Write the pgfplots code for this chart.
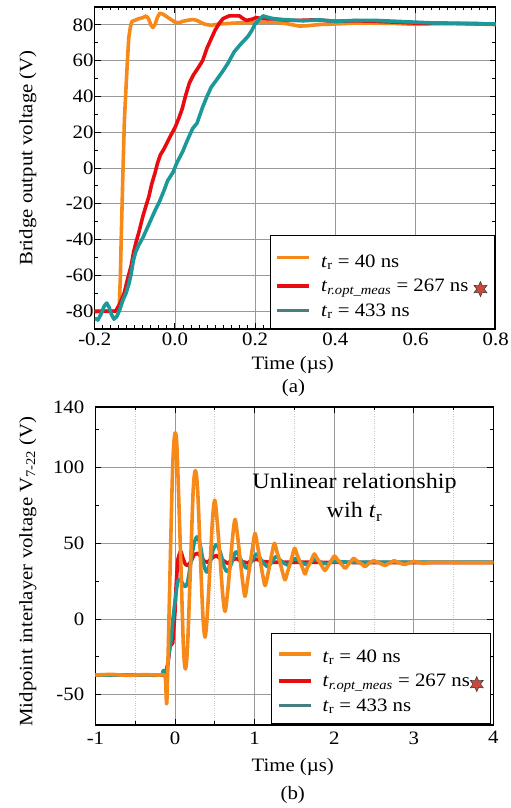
\documentclass[border=0pt]{standalone}
\usepackage{fontspec}
\setmainfont{Liberation Serif}[FakeStretch=1.1]
\usepackage{pgfplots}
\pgfplotsset{compat=1.18}
\usetikzlibrary{shapes.geometric}

\definecolor{cOrange}{RGB}{247,137,25}
\definecolor{cRed}{RGB}{232,12,16}
\definecolor{cTeal}{RGB}{28,152,152}
\definecolor{cTealLeg}{RGB}{72,126,130}
\definecolor{cStar}{RGB}{205,72,58}
\definecolor{gridgray}{gray}{0.6}

\newcommand{\fs}{\fontsize{19}{22}\selectfont}
\newcommand{\tr}{\textit{t}\textsubscript{r}}
\newsavebox{\starbox}

\pgfplotsset{
  panel/.style={
    scale only axis,
    axis line style={line width=1.1pt},
    tick style={black, line width=0.9pt},
    major tick length=6bp, minor tick length=3.5bp,
    tick align=inside,
    grid=major,
    major grid style={gridgray, line width=0.8pt},
    tick label style={font=\fs},
    yticklabel style={anchor=east, inner xsep=1bp},
    every axis plot/.append style={line width=3.6bp, line join=round},
    legend cell align=left,
    legend image code/.code={\draw[#1, line width=3.6bp] (0bp,0bp) -- (32bp,0bp);},
    legend style={font=\fs, draw=black, line width=1pt, fill=white,
      inner xsep=5bp, inner ysep=9bp, row sep=6.4bp,
      /tikz/every odd column/.append style={column sep=8bp}},
  },
}

\begin{document}
\sbox{\starbox}{\tikz[baseline=-0.55ex]\node[star, star points=6, star point ratio=2,
  minimum size=15bp, inner sep=0pt, fill=cStar, draw=black!75, line width=0.6pt]{};}
\begin{tikzpicture}
% ---------------- (a) ----------------
\begin{axis}[
  panel, at={(92bp,479bp)}, anchor=south west,
  width=401bp, height=322bp,
  xmin=-0.2, xmax=0.8, ymin=-90, ymax=90,
  xtick={-0.2,0,0.2,0.4,0.6,0.8}, minor x tick num=9,
  xticklabels={-0.2,0.0,0.2,0.4,0.6,0.8},
  ytick={-80,-60,-40,-20,0,20,40,60,80}, minor y tick num=1,
  yticklabels={-80,-60,-40,-20,0,20,40,60,80},
  ylabel={Bridge output voltage (V)},
  y label style={font=\fs, at={(axis description cs:-0.167,0.531)}, anchor=center},
  legend style={at={(1,0)}, anchor=south east, xshift=-1bp},
]
\addplot[cOrange, forget plot] coordinates {
(-0.200,-80.5) (-0.180,-80.0) (-0.160,-80.2) (-0.145,-80.0) (-0.139,-78.5)
(-0.136,-60) (-0.134,-40) (-0.130,-5) (-0.126,27) (-0.122,45) (-0.118,62)
(-0.115,73) (-0.111,79) (-0.107,82) (-0.100,82.5) (-0.090,83.5) (-0.080,84)
(-0.072,85) (-0.066,83.5) (-0.060,80) (-0.055,78.5) (-0.050,80) (-0.044,84)
(-0.038,86.5) (-0.030,86) (-0.020,84.5) (-0.010,83) (0.000,81.5) (0.010,81.2)
(0.020,82) (0.030,82.5) (0.045,83) (0.055,82.5) (0.065,81.3) (0.075,80.3)
(0.090,79.8) (0.110,80.5) (0.150,81) (0.200,81.5) (0.250,81.5) (0.280,80.6)
(0.310,79.3) (0.330,79.5) (0.360,80.2) (0.400,80.5) (0.450,81) (0.500,81)
(0.550,80.8) (0.600,80.3) (0.650,80.6) (0.700,80.8) (0.750,80.5) (0.800,80.2)
};
\addplot[cRed, forget plot] coordinates {
(-0.200,-80) (-0.160,-80) (-0.148,-80) (-0.140,-77) (-0.132,-73) (-0.126,-69.5)
(-0.118,-62) (-0.109,-54.5) (-0.103,-47) (-0.097,-41.5) (-0.090,-36) (-0.080,-27)
(-0.072,-21) (-0.065,-16) (-0.058,-9) (-0.050,-3) (-0.043,3) (-0.036,7.5)
(-0.029,10) (-0.022,13) (-0.011,18) (0.000,22.5) (0.010,28) (0.018,33)
(0.026,40) (0.036,47.5) (0.046,52) (0.058,56) (0.069,60) (0.080,67) (0.090,72)
(0.100,77) (0.111,81) (0.120,83.5) (0.135,85) (0.150,85) (0.161,85) (0.170,83.5)
(0.178,82.5) (0.190,83) (0.202,84) (0.220,83.5) (0.250,83.3) (0.280,82.5)
(0.310,82.5) (0.350,82.8) (0.400,82) (0.450,82.3) (0.500,82) (0.550,81.5)
(0.600,81) (0.650,81) (0.700,80.8) (0.750,80.8) (0.800,80.3)
};
\addplot[cTeal, forget plot] coordinates {
(-0.200,-84) (-0.192,-85) (-0.183,-81) (-0.176,-77) (-0.170,-75.5) (-0.164,-78)
(-0.158,-82) (-0.152,-84.5) (-0.145,-83) (-0.138,-79.5) (-0.130,-74) (-0.122,-70)
(-0.115,-65) (-0.109,-59) (-0.104,-52) (-0.098,-47) (-0.090,-43) (-0.080,-39)
(-0.070,-34) (-0.060,-29) (-0.050,-24) (-0.039,-19) (-0.028,-13) (-0.018,-7)
(-0.005,-2.5) (0.005,3) (0.019,9) (0.030,15) (0.044,22) (0.055,25) (0.069,34)
(0.080,40) (0.090,45) (0.103,49) (0.119,54) (0.132,58.5) (0.148,65) (0.165,69.5)
(0.182,73.5) (0.192,77) (0.200,80.5) (0.210,83) (0.220,85) (0.235,84) (0.252,83.2)
(0.280,82.8) (0.320,82.3) (0.360,82.8) (0.400,82) (0.450,82.5) (0.500,82.5)
(0.550,82) (0.600,81.5) (0.650,81) (0.700,80.8) (0.750,80.5) (0.800,80.5)
};
\addlegendimage{cOrange}
\addlegendentry{\rule{0pt}{21bp}\tr{} = 40 ns}
\addlegendimage{cRed}
\addlegendentry{\textit{t}\textsubscript{\textit{r.opt\_meas}} = 267 ns \usebox{\starbox}}
\addlegendimage{cTealLeg}
\addlegendentry{\tr{} = 433 ns}
\end{axis}

% ---------------- (b) ----------------
\begin{axis}[
  panel, at={(92.7bp,83bp)}, anchor=south west,
  width=398bp, height=318bp,
  axis line style={line width=1.4pt},
  xmin=-1, xmax=4, ymin=-70, ymax=140,
  xtick={-1,0,1,2,3,4}, minor xtick={-0.5,0.5,1.5,2.5,3.5},
  xticklabels={-1,0,1,2,3,4},
  ytick={-50,0,50,100,140}, minor ytick={-25,25,75,125},
  yticklabels={-50,0,50,100,140},
  xminorgrids=true,
  minor x grid style={gray!45, dotted, line width=0.9pt},
  yticklabel style={xshift=-10bp},
  xticklabel style={yshift=-3bp},
  ylabel={Midpoint interlayer voltage V\textsubscript{7-22} (V)},
  y label style={font=\fs, at={(axis description cs:-0.170,0.483)}, anchor=center},
  legend style={at={(1,0)}, anchor=south east, xshift=-2.4bp, yshift=1bp},
]
\addplot[cRed, forget plot] coordinates {
(-1,-37) (-0.5,-37) (-0.13,-37) (-0.09,-30) (-0.063,-18) (-0.029,-15.8)
(0.0,5) (0.013,21.5) (0.034,39) (0.06,44) (0.076,44.5) (0.1,40) (0.13,36)
(0.16,35.3) (0.2,38) (0.24,42.5) (0.286,43.4) (0.33,41) (0.37,38) (0.41,37.5)
(0.46,40) (0.515,42) (0.58,39.5) (0.66,36.8) (0.71,38.5) (0.765,40) (0.84,38)
(0.91,37) (0.96,38.5) (1.02,39.5) (1.1,38) (1.2,37.5) (1.6,37.5) (2.4,37.3)
(3.2,37.3) (4,37.3)
};
\addplot[cTeal, forget plot, smooth] coordinates {
(-1,-37) (-0.5,-37) (-0.18,-37) (-0.155,-35) (-0.142,-34) (-0.13,-37)
(-0.12,-38) (-0.1,-33) (-0.075,-22) (-0.05,-13.6) (-0.03,-2) (-0.008,8.3)
(0.015,18) (0.034,24.7) (0.063,26.3) (0.1,23) (0.131,21.4) (0.16,25) (0.2,38)
(0.24,50) (0.28,54.3) (0.32,48) (0.36,36) (0.40,31) (0.44,37) (0.48,46)
(0.53,49) (0.58,42) (0.62,34) (0.662,31.3) (0.71,37) (0.767,44.5) (0.83,39)
(0.9,33.5) (0.96,38) (1.026,43) (1.095,38) (1.165,34.6) (1.22,38) (1.27,41.2)
(1.34,38) (1.41,35.7) (1.46,38) (1.51,40) (1.58,37.5) (1.65,36) (1.7,37.5)
(1.76,39.5) (1.83,37.5) (1.9,36.5) (2.0,38) (2.2,37.5) (2.6,37.5) (3.2,37.5) (4,37.5)
};
\addplot[cOrange, forget plot, smooth] coordinates {
(-1.00,-37) (-0.80,-36.6) (-0.60,-37.2) (-0.40,-36.8) (-0.20,-37) (-0.14,-37)
(-0.12,-40) (-0.105,-56) (-0.09,-30) (-0.07,15) (-0.05,60) (-0.03,100)
(-0.012,118) (0.005,123) (0.025,112) (0.068,45) (0.105,-18) (0.131,-33)
(0.157,-18) (0.193,33) (0.228,85) (0.256,98) (0.284,85) (0.317,43) (0.350,2)
(0.377,-12) (0.404,2) (0.438,33) (0.471,66) (0.499,78.5) (0.527,66) (0.563,42)
(0.599,16) (0.628,5) (0.657,16) (0.691,35) (0.725,55) (0.754,65.8) (0.783,56)
(0.817,40) (0.851,24) (0.879,14.9) (0.908,24) (0.942,36) (0.976,48) (1.005,56.6)
(1.034,49) (1.068,39) (1.102,29) (1.131,22.1) (1.160,28) (1.190,36) (1.220,44)
(1.249,50) (1.282,44) (1.316,38) (1.350,31) (1.382,25.9) (1.413,31) (1.443,36)
(1.474,42) (1.504,46.7) (1.536,42) (1.568,38) (1.600,34) (1.633,29.8)
(1.663,34) (1.692,36.5) (1.722,40) (1.751,43) (1.784,40) (1.817,37.5)
(1.851,34.5) (1.884,32) (1.914,34.5) (1.944,37) (1.974,39.5) (2.003,41.6)
(2.036,39.5) (2.070,37.5) (2.103,35.5) (2.136,33.5) (2.163,35) (2.190,37)
(2.218,38.5) (2.245,40.1) (2.280,38.5) (2.316,37.3) (2.352,36) (2.387,34.6)
(2.414,35.8) (2.441,36.8) (2.469,37.8) (2.496,38.6) (2.532,37.8) (2.568,37)
(2.604,36) (2.640,35.3) (2.668,36.2) (2.695,37) (2.723,37.8) (2.750,38.5)
(2.815,37.2) (2.880,36) (2.940,37) (3.0,38) (3.06,37.4) (3.12,36.8) (3.2,37.3)
(3.4,37.4) (3.7,37.2) (4.0,37.3)
};
\node[font=\fontsize{22}{30}\selectfont, align=center] at (axis cs:2.254,80.6)
  {Unlinear relationship\\wih \tr};
\addlegendimage{cOrange}
\addlegendentry{\rule{0pt}{18bp}\tr{} = 40 ns}
\addlegendimage{cRed}
\addlegendentry{\textit{t}\textsubscript{\textit{r.opt\_meas}} = 267 ns\usebox{\starbox}}
\addlegendimage{cTealLeg}
\addlegendentry{\tr{} = 433 ns}
\end{axis}

\node[font=\fs] at (290bp,443bp) {Time (µs)};
\node[font=\fs] at (290.7bp,420bp) {(a)};
\node[font=\fs] at (290bp,41.3bp) {Time (µs)};
\node[font=\fs] at (290bp,13bp) {(b)};
\pgfresetboundingbox
\path (0bp,0bp) rectangle (508bp,808bp);
\end{tikzpicture}
\end{document}
